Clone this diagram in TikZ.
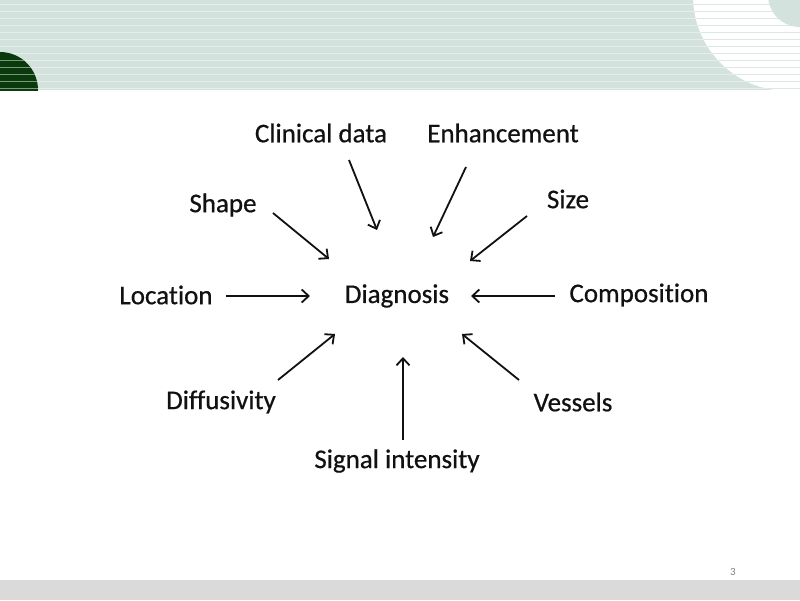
\documentclass[tikz,border=0pt]{standalone}
\usepackage{fontspec}
\setmainfont{Carlito}[Ligatures={NoCommon}]
\newfontfamily\lblfont{Carlito}[Ligatures={NoCommon},FakeBold=0.6]
\usetikzlibrary{arrows.meta}
\definecolor{band}{HTML}{D3E2DC}
\definecolor{stripe}{HTML}{E4EEEA}
\definecolor{dkgreen}{HTML}{0A3A0C}
\definecolor{foot}{HTML}{DADADA}
\definecolor{txt}{HTML}{111111}
\begin{document}
\begin{tikzpicture}[x=1pt,y=-1pt,
  lbl/.style={font=\lblfont\fontsize{27}{30}\selectfont, text=txt, inner sep=0pt},
  arr/.style={-{Straight Barb[length=7pt,width=13pt]}, line width=1.8pt, txt}]
\useasboundingbox (0,0) rectangle (800,600);
\fill[white] (0,0) rectangle (800,600);
% header band
\fill[band] (0,0) rectangle (800,90);
\foreach \yy in {4,11,...,88} {\draw[stripe, line width=0.8pt] (0,\yy) -- (800,\yy);}
\begin{scope}
  \clip (0,0) rectangle (800,90);
  \fill[white] (788,-4) circle[radius=95];
  \begin{scope}
    \clip (788,-4) circle[radius=95];
    \foreach \yy in {4,11,...,88} {\draw[band!80, line width=0.8pt] (680,\yy) -- (800,\yy);}
  \end{scope}
  \fill[band] (800,-5) circle[radius=32];
  \fill[dkgreen] (0,90) circle[radius=38];
  \begin{scope}
    \clip (0,90) circle[radius=38];
    \foreach \yy in {60,67,...,88} {\draw[band!55!dkgreen, line width=0.7pt] (0,\yy) -- (40,\yy);}
  \end{scope}
\end{scope}
% footer
\fill[foot] (0,580) rectangle (800,600);
\node[font=\fontsize{11}{13}\selectfont, text=gray, inner sep=0pt] (pg) at (733,572) {3};
% labels
\node[lbl] (diag) at (397,296) {Diagnosis};
\node[lbl] (clin) at (321,133) {Clinical data};
\node[lbl] (enh) at (503,133) {Enhancement};
\node[lbl] (shape) at (223,205) {Shape};
\node[lbl] (size) at (568,199) {Size};
\node[lbl] (loc) at (166,295) {Location};
\node[lbl] (comp) at (639,295) {Composition};
\node[lbl] (diff) at (221,402) {Diffusivity};
\node[lbl] (vess) at (573,402) {Vessels};
\node[lbl] (sig) at (397,461) {Signal intensity};
% arrow endpoints
\coordinate (clinA) at (349,160); \coordinate (clinB) at (377,230);
\coordinate (enhA) at (466,167); \coordinate (enhB) at (433,237);
\coordinate (shapeA) at (273,213); \coordinate (shapeB) at (329,259);
\coordinate (sizeA) at (527,216); \coordinate (sizeB) at (470,261);
\coordinate (locA) at (226,296); \coordinate (locB) at (310,296);
\coordinate (compA) at (555,296); \coordinate (compB) at (471,296);
\coordinate (diffA) at (278,380); \coordinate (diffB) at (335,334);
\coordinate (vessA) at (519,380); \coordinate (vessB) at (462,334);
\coordinate (sigA) at (403,440); \coordinate (sigB) at (403,357);
\foreach \n in {clin,enh,shape,size,loc,comp,diff,vess,sig} {\draw[arr] (\n A) -- (\n B);}
\end{tikzpicture}
\end{document}
